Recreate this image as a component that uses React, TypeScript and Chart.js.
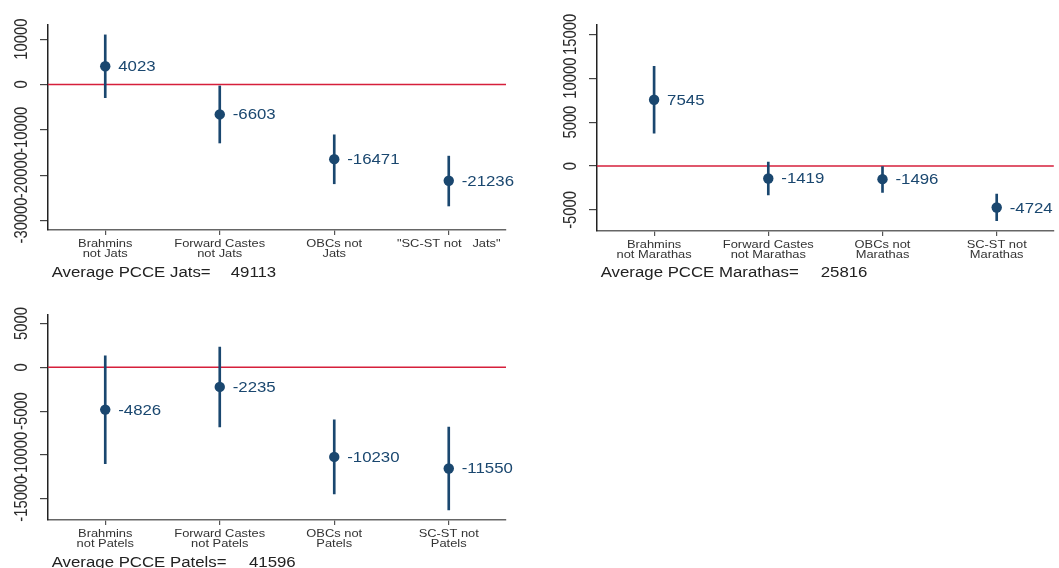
import React, { useEffect, useRef } from "react";
import { Chart, registerables } from "chart.js";

Chart.register(...registerables);

// ---------- data ----------
const jatsCategories = [["Brahmins", "not Jats"], ["Forward Castes", "not Jats"], ["OBCs not", "Jats"], ['"SC-ST not   Jats"']];
const jatsValues = [4023, -6603, -16471, -21236];
const jatsLower = [-2900, -12900, -21900, -26800];
const jatsUpper = [10950, -320, -11100, -15800];
const jatsYTicks = [-30000, -20000, -10000, 0, 10000];
const jatsCaption = "Average PCCE Jats=";
const jatsAverage = 49113;

const marathasCategories = [["Brahmins", "not Marathas"], ["Forward Castes", "not Marathas"], ["OBCs not", "Marathas"], ["SC-ST not", "Marathas"]];
const marathasValues = [7545, -1419, -1496, -4724];
const marathasLower = [3740, -3280, -3000, -6220];
const marathasUpper = [11340, 450, 0, -3200];
const marathasYTicks = [-5000, 0, 5000, 10000, 15000];
const marathasCaption = "Average PCCE Marathas=";
const marathasAverage = 25816;

const patelsCategories = [["Brahmins", "not Patels"], ["Forward Castes", "not Patels"], ["OBCs not", "Patels"], ["SC-ST not", "Patels"]];
const patelsValues = [-4826, -2235, -10230, -11550];
const patelsLower = [-11000, -6800, -14460, -16290];
const patelsUpper = [1300, 2300, -6010, -6810];
const patelsYTicks = [-15000, -10000, -5000, 0, 5000];
const patelsCaption = "Average PCCE Patels=";
const patelsAverage = 41596;

// ---------- styling / layout ----------
const NAVY = "#1a476f";
const RED = "#d61f3b";
const FONT = '"Liberation Sans", Arial, Helvetica, sans-serif';

type PanelSpec = {
  categories: string[][];
  values: number[];
  lower: number[];
  upper: number[];
  yTicks: number[];
  yMin: number;
  yMax: number;
  caption: string;
  average: number;
  left: number;
  top: number;
  width: number;
  height: number;
  plotLeft: number;
  plotRight: number;
  plotTop: number;
  plotBottom: number;
  captionX: number;
  numberX: number;
};

const panels: PanelSpec[] = [
  {
    categories: jatsCategories, values: jatsValues, lower: jatsLower, upper: jatsUpper,
    yTicks: jatsYTicks, yMin: -32100, yMax: 13130, caption: jatsCaption, average: jatsAverage,
    left: 0, top: 0, width: 530, height: 290,
    plotLeft: 48, plotRight: 506, plotTop: 25, plotBottom: 230,
    captionX: 51.7, numberX: 230.7,
  },
  {
    categories: marathasCategories, values: marathasValues, lower: marathasLower, upper: marathasUpper,
    yTicks: marathasYTicks, yMin: -7400, yMax: 16060, caption: marathasCaption, average: marathasAverage,
    left: 530, top: 0, width: 529, height: 290,
    plotLeft: 67, plotRight: 529, plotTop: 25, plotBottom: 231,
    captionX: 70.7, numberX: 290.7,
  },
  {
    categories: patelsCategories, values: patelsValues, lower: patelsLower, upper: patelsUpper,
    yTicks: patelsYTicks, yMin: -17430, yMax: 6050, caption: patelsCaption, average: patelsAverage,
    left: 0, top: 290, width: 530, height: 278,
    plotLeft: 48, plotRight: 506, plotTop: 24.3, plotBottom: 230,
    captionX: 51.7, numberX: 249,
  },
];

function stretchText(
  ctx: CanvasRenderingContext2D,
  text: string,
  x: number,
  y: number,
  size: number,
  sx: number,
  align: CanvasTextAlign,
  color: string,
  rotate = 0
) {
  ctx.save();
  ctx.translate(x, y);
  ctx.scale(sx, 1);
  if (rotate) ctx.rotate(rotate);
  ctx.font = `${size}px ${FONT}`;
  ctx.fillStyle = color;
  ctx.textAlign = align;
  ctx.textBaseline = "alphabetic";
  ctx.fillText(text, 0, 0);
  ctx.restore();
}

function Panel({ spec }: { spec: PanelSpec }) {
  const ref = useRef<HTMLCanvasElement | null>(null);

  useEffect(() => {
    const canvas = ref.current;
    if (!canvas) return;

    const annotate = {
      id: "annotate",
      beforeDatasetsDraw(chart: any) {
        const { ctx, chartArea, scales } = chart;
        const py = scales.y.getPixelForValue(0);
        ctx.save();
        ctx.strokeStyle = RED;
        ctx.lineWidth = 1.5;
        ctx.beginPath();
        ctx.moveTo(chartArea.left, py);
        ctx.lineTo(chartArea.right, py);
        ctx.stroke();
        ctx.restore();
      },
      afterDraw(chart: any) {
        const { ctx, chartArea, scales } = chart;
        const y = scales.y;
        const x = scales.x;
        // y tick labels (rotated)
        y.ticks.forEach((t: any) => {
          const py = y.getPixelForValue(t.value);
          stretchText(ctx, String(t.value), chartArea.left - 21, py, 14.8, 1.25, "center", "#2b2b2b", -Math.PI / 2);
        });
        // x category labels
        spec.categories.forEach((lines, i) => {
          const px = x.getPixelForValue(i);
          lines.forEach((line, j) => {
            stretchText(ctx, line, px, chartArea.bottom + 17 + j * 10.2, 10.4, 1.24, "center", "#333");
          });
        });
        // value labels
        const meta = chart.getDatasetMeta(0);
        meta.data.forEach((pt: any, i: number) => {
          stretchText(ctx, String(spec.values[i]), pt.x + 13, pt.y + 5, 14, 1.2, "left", NAVY);
        });
        // caption
        stretchText(ctx, spec.caption, spec.captionX, 276.7, 14, 1.2, "left", "#222");
        stretchText(ctx, String(spec.average), spec.numberX, 276.7, 14, 1.2, "left", "#222");
      },
    };

    const chart = new Chart(canvas, {
      type: "bar",
      data: {
        labels: spec.categories.map((c) => c.join(" ")),
        datasets: [
          {
            type: "line",
            data: spec.values,
            showLine: false,
            pointRadius: 5.2,
            pointHoverRadius: 5.2,
            pointBackgroundColor: NAVY,
            pointBorderColor: NAVY,
            pointBorderWidth: 0,
            order: 0,
          } as any,
          {
            type: "bar",
            data: spec.lower.map((l, i) => [l, spec.upper[i]]),
            backgroundColor: NAVY,
            borderWidth: 0,
            barThickness: 2,
            order: 1,
          } as any,
        ],
      },
      options: {
        animation: false,
        responsive: false,
        devicePixelRatio: 1,
        events: [],
        layout: {
          padding: {
            left: 0,
            top: spec.plotTop,
            right: spec.width - spec.plotRight,
            bottom: 0,
          },
        },
        plugins: {
          legend: { display: false },
          tooltip: { enabled: false },
        },
        scales: {
          x: {
            type: "category",
            offset: true,
            grid: {
              display: true,
              offset: false,
              drawOnChartArea: false,
              drawTicks: true,
              tickLength: 5,
              color: "#555",
              lineWidth: 1.2,
            },
            border: { display: true, color: "#666", width: 1.5 },
            ticks: { display: false },
            afterFit: (s: any) => {
              s.height = spec.height - spec.plotBottom;
            },
          },
          y: {
            type: "linear",
            min: spec.yMin,
            max: spec.yMax,
            afterBuildTicks: (s: any) => {
              s.ticks = spec.yTicks.map((v) => ({ value: v }));
            },
            grid: {
              display: true,
              drawOnChartArea: false,
              drawTicks: true,
              tickLength: 8,
              color: "#444",
              lineWidth: 1.2,
            },
            border: { display: true, color: "#222", width: 1.5 },
            ticks: { display: false },
            afterFit: (s: any) => {
              s.width = spec.plotLeft;
            },
          },
        },
      } as any,
      plugins: [annotate],
    });

    return () => chart.destroy();
  }, [spec]);

  return (
    <canvas
      ref={ref}
      width={spec.width}
      height={spec.height}
      style={{
        position: "absolute",
        left: spec.left,
        top: spec.top,
        width: spec.width,
        height: spec.height,
      }}
    />
  );
}

export default function App() {
  return (
    <div
      style={{
        position: "absolute",
        left: 0,
        top: 0,
        width: 1059,
        height: 568,
        overflow: "hidden",
        background: "#ffffff",
      }}
    >
      {panels.map((p, i) => (
        <Panel key={i} spec={p} />
      ))}
    </div>
  );
}
